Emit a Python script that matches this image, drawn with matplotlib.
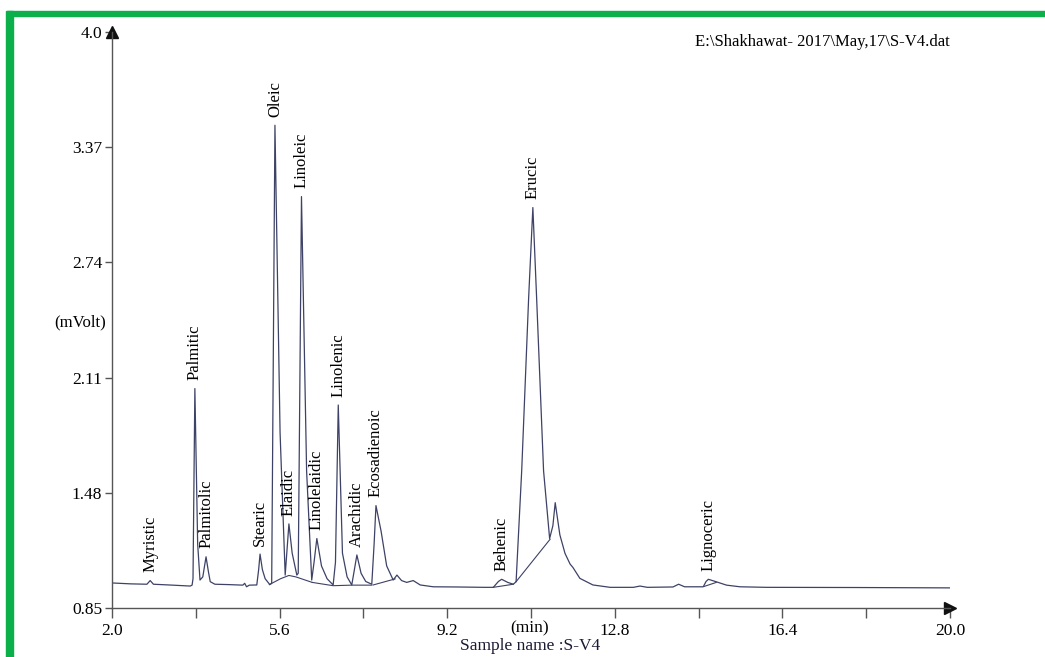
import matplotlib
matplotlib.use("Agg")
import matplotlib.pyplot as plt
from matplotlib.patches import Rectangle

# ---------------- data ----------------
trace_t = [2.00, 2.40, 2.75, 2.82, 2.89, 3.30, 3.68, 3.72, 3.74, 3.78, 3.84, 3.89,
           3.95, 4.02, 4.07, 4.11, 4.21, 4.50, 4.81, 4.85, 4.89, 4.95, 5.11, 5.15,
           5.18, 5.23, 5.29, 5.39, 5.43, 5.50, 5.61, 5.72, 5.80, 5.87, 5.97, 6.00,
           6.07, 6.18, 6.29, 6.34, 6.40, 6.50, 6.62, 6.75, 6.80, 6.86, 6.95, 7.05,
           7.15, 7.20, 7.26, 7.35, 7.45, 7.58, 7.63, 7.67, 7.78, 7.90, 8.04, 8.12,
           8.22, 8.33, 8.47, 8.62, 8.90, 9.40, 10.00, 10.19, 10.30, 10.37, 10.50,
           10.62, 10.68, 10.80, 10.95, 11.04, 11.12, 11.27, 11.40, 11.47, 11.52,
           11.62, 11.73, 11.84, 11.90, 12.05, 12.33, 12.70, 13.20, 13.34, 13.50,
           14.05, 14.17, 14.30, 14.70, 14.76, 14.81, 14.96, 15.20, 15.49, 16.06,
           18.00, 20.00]
trace_v = [0.987, 0.982, 0.980, 1.000, 0.980, 0.975, 0.970, 0.975, 1.010, 2.050, 1.200, 1.003,
           1.020, 1.130, 1.050, 0.994, 0.980, 0.978, 0.975, 0.985, 0.966, 0.975, 0.976, 1.060,
           1.145, 1.060, 1.010, 0.978, 0.985, 3.490, 1.810, 1.030, 1.310, 1.150, 1.030, 1.040,
           3.100, 1.600, 1.003, 1.100, 1.230, 1.080, 1.010, 0.976, 1.100, 1.960, 1.150, 1.020,
           0.976, 1.050, 1.140, 1.040, 0.995, 0.980, 1.200, 1.410, 1.270, 1.080, 1.003, 1.030,
           1.000, 0.990, 1.000, 0.976, 0.966, 0.965, 0.963, 0.963, 0.995, 1.007, 0.990,
           0.980, 0.994, 1.600, 2.550, 3.040, 2.550, 1.600, 1.230, 1.300, 1.426,
           1.250, 1.149, 1.090, 1.072, 1.012, 0.976, 0.963, 0.963, 0.970, 0.963,
           0.965, 0.980, 0.966, 0.966, 0.995, 1.007, 0.995, 0.975, 0.966, 0.963,
           0.962, 0.960]

# integration baselines drawn by the data system
base_t = [[5.38, 5.62, 5.80, 5.95, 6.30],
          [6.30, 6.75, 7.15, 7.58],
          [7.61, 8.08],
          [10.19, 10.62],
          [10.68, 11.41],
          [14.72, 14.98]]
base_v = [[0.978, 1.010, 1.028, 1.020, 0.990],
          [0.990, 0.972, 0.975, 0.975],
          [0.976, 1.009],
          [0.963, 0.980],
          [0.994, 1.226],
          [0.968, 0.990]]

peak_names = ["Myristic", "Palmitic", "Palmitolic", "Stearic", "Oleic", "Elaidic",
              "Linoleic", "Linolelaidic", "Linolenic", "Arachidic", "Ecosadienoic",
              "Behenic", "Erucic", "Lignoceric"]
peak_t = [2.82, 3.78, 4.02, 5.18, 5.50, 5.80, 6.07, 6.40, 6.86, 7.26, 7.67, 10.37, 11.04, 14.81]
peak_v = [1.000, 2.050, 1.130, 1.145, 3.490, 1.310, 3.100, 1.230, 1.960, 1.140, 1.410, 1.007, 3.040, 1.007]

x_ticks = [2.0, 5.6, 9.2, 12.8, 16.4, 20.0]
x_minor = [3.8, 7.4, 11.0, 14.6, 18.2]
y_ticks = [0.85, 1.48, 2.11, 2.74, 3.37, 4.0]
y_labels = ["0.85", "1.48", "2.11", "2.74", "3.37", "4.0"]

# ---------------- drawing ----------------
plt.rcParams["font.family"] = ["Liberation Serif", "DejaVu Serif"]
W, H = 1045, 657
fig = plt.figure(figsize=(W / 100, H / 100), dpi=100)
fig.patch.set_facecolor("white")

# green frame (top and left)
fig.patches.append(Rectangle((7 / W, 1 - 16 / H), 1 - 7 / W, 5 / H, transform=fig.transFigure,
                             color="#0cb04a", zorder=5))
fig.patches.append(Rectangle((6 / W, 0), 7 / W, 1 - 11 / H, transform=fig.transFigure,
                             color="#0cb04a", zorder=5))

ax = fig.add_axes([112 / W, 49 / H, (950 - 112) / W, (608 - 32) / H])
ax.set_xlim(2.0, 20.0)
ax.set_ylim(0.85, 4.0)
for s in ["top", "right"]:
    ax.spines[s].set_visible(False)
for s in ["left", "bottom"]:
    ax.spines[s].set_color("#555555")
    ax.spines[s].set_linewidth(1.0)

trace_color = "#3d4266"
ax.plot(trace_t, trace_v, color=trace_color, lw=0.9, solid_joinstyle="round")
for bt, bv in zip(base_t, base_v):
    ax.plot(bt, bv, color=trace_color, lw=0.8)

for name, t, v in zip(peak_names, peak_t, peak_v):
    ax.annotate(name, (t, v), xytext=(0, 6), textcoords="offset points",
                rotation=90, ha="center", va="bottom", fontsize=12, color="#000000")

ax.set_xticks(x_ticks)
ax.set_xticklabels([f"{x:.1f}" for x in x_ticks])
ax.set_xticks(x_minor, minor=True)
ax.set_yticks(y_ticks)
ax.set_yticklabels(y_labels)
ax.tick_params(axis="x", which="both", direction="out", length=7, width=1, color="#555555",
               labelsize=12.5, pad=4, labelcolor="#000000")
ax.tick_params(axis="y", which="both", direction="out", length=5, width=1, color="#555555",
               labelsize=12.5, pad=2, labelcolor="#000000")

# axis arrows
ax.plot([0], [1], marker="^", ms=9, color="#111111", transform=ax.transAxes, clip_on=False)
ax.plot([1], [0], marker=">", ms=9, color="#111111", transform=ax.transAxes, clip_on=False)

fig.text(80 / W, 1 - 322 / H, "(mVolt)", ha="center", va="center", fontsize=12, color="#000000")
fig.text(530 / W, 1 - 628 / H, "(min)", ha="center", va="center", fontsize=12.5, color="#000000")
fig.text(530 / W, 1 - 646 / H, "Sample name :S-V4", ha="center", va="center", fontsize=12.5,
         color="#1a1a33")
fig.text(695 / W, 1 - 42 / H, r"E:\Shakhawat- 2017\May,17\S-V4.dat", ha="left", va="center",
         fontsize=12, color="#000000")

fig.savefig("out.png", dpi=100)
